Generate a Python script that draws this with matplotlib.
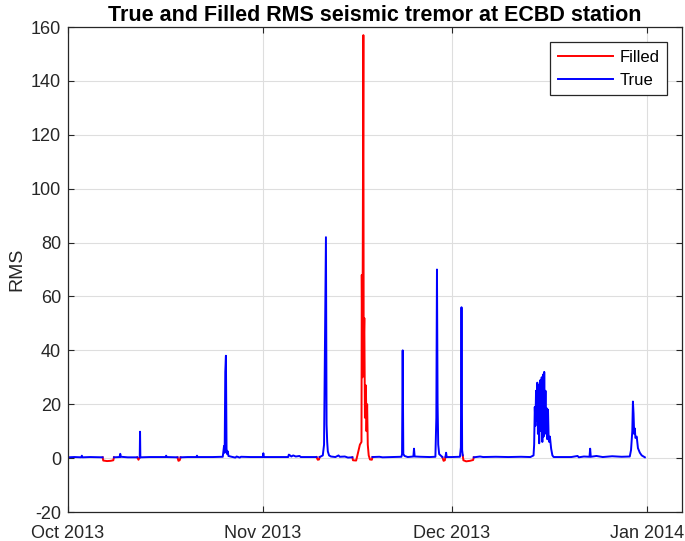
import numpy as np
import matplotlib
matplotlib.use('Agg')
import matplotlib.pyplot as plt
import matplotlib.dates as mdates
from datetime import datetime

plt.rcParams['font.family'] = ['Liberation Sans', 'DejaVu Sans']
plt.rcParams['axes.unicode_minus'] = False

nan = np.nan

# days since 1 Oct 2013, RMS values
true_day = [0.0, 1.0, 2.1, 2.2, 2.3, 3.5, 5.5, nan,
            7.3, 8.2, 8.3, 8.4, 9.5, 11.0, nan,
            11.4, 11.45, 11.5, 13.0, 15.5, 15.6, 15.7, 17.4, nan,
            17.9, 19.0, 20.4, 20.5, 20.6, 23.0, 24.6, 24.8, 24.9, 25.0, 25.1, 25.2,
            25.3, 25.4, 25.5, 26.0, 26.6, 26.8, 27.3, 27.5, 29.0, 31.0, 31.05, 31.1,
            35.0, 35.1, 35.3, 35.5, 35.8, 36.2, 36.8, 37.0, 39.5, nan,
            40.0, 40.5, 40.7, 40.85, 41.0, 41.1, 41.2, 41.3, 41.5, 41.8, 42.5, 43.0,
            43.2, 44.0, 44.5, 45.2, nan,
            48.4, 49.5, 50.0, 51.5, 53.0, 53.1, 53.2, 53.3, 53.5, 54.0, 54.9, 55.0,
            55.1, 56.0, 57.5, 58.4, 58.55, 58.65, 58.75, 58.85, 59.0, 59.5, nan,
            60.0, 60.1, 60.2, 61.0, 62.3, 62.45, 62.55, 62.65, 62.75, nan,
            64.5, 65.5, 66.0, 68.0, 70.0, 72.0, 73.5, 74.0, 74.1, 74.2, 74.3, 74.4,
            74.5, 74.6, 74.7, 74.8, 74.9, 75.0, 75.1, 75.2, 75.3, 75.4, 75.5, 75.6,
            75.7, 75.8, 75.9, 76.0, 76.1, 76.2, 76.3, 76.4, 76.5, 76.6, 76.8, 77.0,
            77.2, 80.0, 81.0, 81.2, 82.0, 82.9, 83.0, 83.1, 84.0, 85.0, 86.5, 88.0,
            89.3, 89.5, 89.7, 89.8, 89.9, 90.0, 90.1, 90.2, 90.4, 90.6, 90.9, 91.2,
            91.7]
true_rms = [0.3, 0.4, 0.3, 0.9, 0.3, 0.4, 0.3, nan,
            0.3, 0.4, 1.6, 0.5, 0.3, 0.3, nan,
            0.3, 9.8, 0.3, 0.4, 0.4, 0.9, 0.4, 0.3, nan,
            0.3, 0.4, 0.4, 0.9, 0.4, 0.4, 0.5, 4.5, 2.0, 32.0, 38.0, 3.5,
            1.5, 2.5, 0.8, 0.5, 0.2, 0.6, 0.2, 0.5, 0.4, 0.4, 1.8, 0.4,
            0.4, 1.3, 1.0, 0.6, 1.0, 0.6, 0.8, 0.4, 0.4, nan,
            0.4, 1.0, 5.0, 45.5, 82.0, 12.5, 6.0, 2.5, 1.0, 0.6, 0.4, 1.0,
            0.5, 0.6, 0.2, 0.3, nan,
            0.4, 0.5, 0.3, 0.4, 0.5, 1.5, 40.0, 1.5, 0.8, 0.4, 0.6, 3.5,
            0.6, 0.5, 0.4, 0.5, 15.0, 70.0, 20.0, 5.0, 1.5, 0.4, nan,
            0.4, 2.0, 0.4, 0.4, 0.5, 4.0, 56.0, 3.0, 1.0, nan,
            0.3, 0.6, 0.4, 0.5, 0.4, 0.5, 0.4, 1.0, 5.0, 19.0, 12.0, 25.0,
            14.0, 28.0, 9.0, 27.0, 5.5, 22.0, 29.0, 10.0, 30.0, 6.0, 31.0, 8.0,
            32.0, 12.0, 25.0, 9.0, 18.5, 7.0, 18.0, 8.0, 6.0, 8.0, 3.5, 1.0,
            0.4, 0.4, 0.8, 0.3, 0.6, 0.5, 3.5, 0.5, 0.8, 0.4, 0.7, 0.5,
            0.6, 3.0, 10.0, 21.0, 16.5, 9.0, 11.0, 7.5, 8.0, 3.7, 2.0, 1.0,
            0.3]

filled_day = [5.5, 5.6, 6.2, 6.8, 7.2, 7.3, nan,
              11.0, 11.2, 11.4, nan,
              17.4, 17.55, 17.75, 17.9, nan,
              39.5, 39.7, 39.9, 40.0, nan,
              45.2, 45.3, 45.8, 46.0, 46.2, 46.4, 46.65, 46.7, 46.8, 46.95, 47.0,
              47.1, 47.2, 47.35, 47.45, 47.55, 47.65, 47.8, 48.0, 48.3, 48.4, nan,
              59.5, 59.7, 59.9, 60.0, nan,
              62.75, 62.85, 63.3, 63.9, 64.4, 64.5]
filled_rms = [0.3, -0.9, -1.1, -1.0, -0.8, 0.3, nan,
              0.3, -0.6, 0.3, nan,
              0.3, -1.0, -0.8, 0.3, nan,
              0.4, -0.6, -0.5, 0.4, nan,
              0.3, -0.8, -0.9, 1.0, 3.0, 5.0, 6.0, 68.0, 30.0, 157.0, 40.0,
              52.0, 15.0, 27.0, 10.0, 20.0, 5.0, 1.0, -0.5, -0.6, 0.4, nan,
              0.4, -1.0, -0.8, 0.4, nan,
              1.0, -0.8, -1.2, -1.0, -0.7, 0.3]

month_days = [0, 31, 61, 92]

t0 = mdates.date2num(datetime(2013, 10, 1))
tx = t0 + np.array(true_day)
fx = t0 + np.array(filled_day)

fig = plt.figure(figsize=(6.85, 5.41), dpi=100)
ax = fig.add_axes([0.0993, 0.0536, 0.8963, 0.8964])

ax.plot(fx, filled_rms, color='red', lw=1.4, label='Filled')
ax.plot(tx, true_rms, color='blue', lw=1.4, label='True')

ax.set_xlim(t0, t0 + 97.6)
ax.set_ylim(-20, 160)
ax.set_yticks(np.arange(-20, 161, 20))
ax.set_xticks(t0 + np.array(month_days))
ax.xaxis.set_major_formatter(mdates.DateFormatter('%b %Y'))

ax.grid(True, color='#dedede', lw=0.8)
ax.set_axisbelow(True)
for s in ax.spines.values():
    s.set_color('#262626')
    s.set_linewidth(0.9)
ax.tick_params(direction='in', top=True, right=True, length=4,
               labelsize=13, colors='#262626')
ax.tick_params(axis='y', pad=5)
ax.tick_params(axis='x', pad=9)

ax.set_ylabel('RMS', fontsize=14, color='#262626', labelpad=4)
ax.set_title('True and Filled RMS seismic tremor at ECBD station',
             fontsize=15.5, fontweight='bold', pad=4)

leg = ax.legend(loc='upper right', fontsize=12, fancybox=False, framealpha=1,
                edgecolor='#262626', handlelength=3.3, handletextpad=0.4,
                borderpad=0.45, borderaxespad=0.9)
leg.get_frame().set_linewidth(0.9)

fig.savefig('out.png', dpi=100)
